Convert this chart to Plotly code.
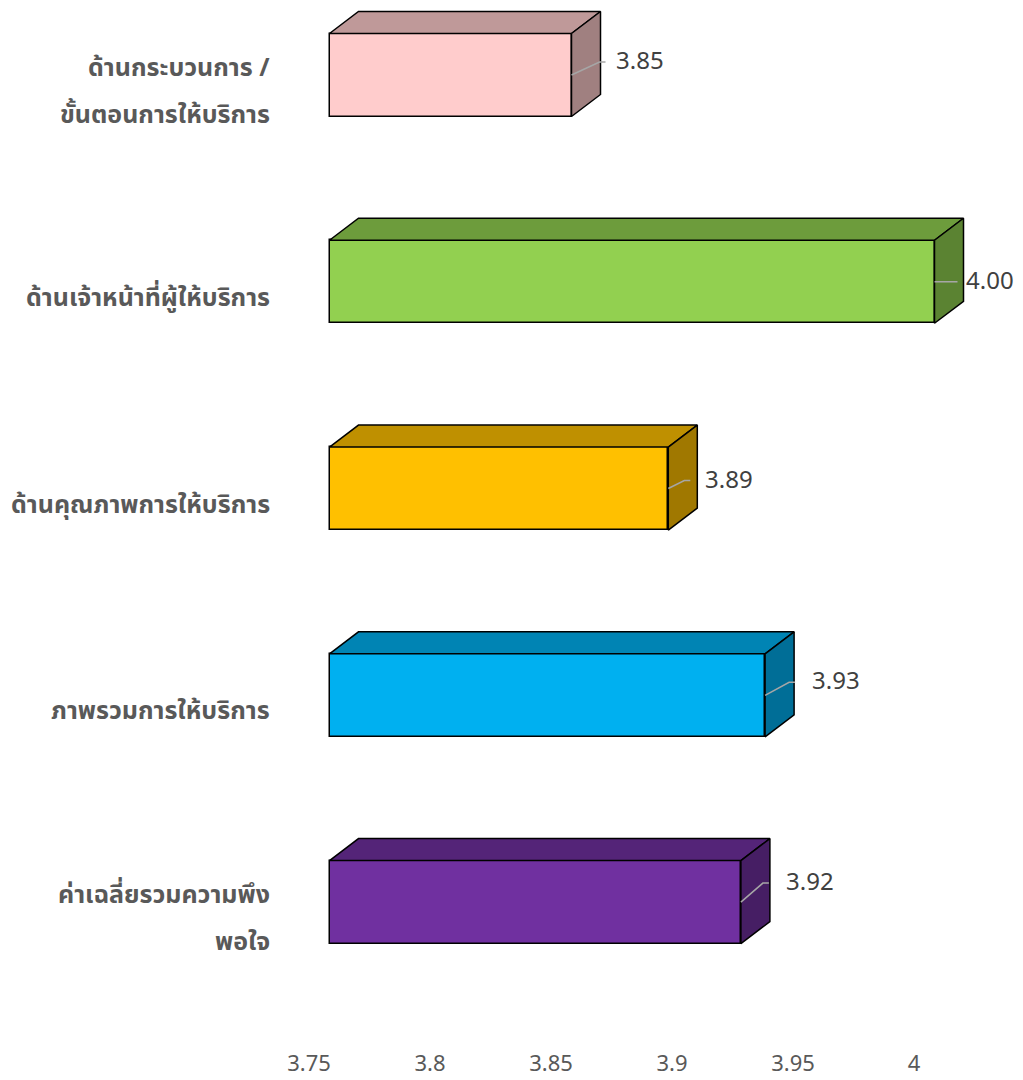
import plotly.graph_objects as go

# Satisfaction scores by aspect (top to bottom)
categories = [
    "ด้านกระบวนการ /<br>ขั้นตอนการให้บริการ",
    "ด้านเจ้าหน้าที่ผู้ให้บริการ",
    "ด้านคุณภาพการให้บริการ",
    "ภาพรวมการให้บริการ",
    "ค่าเฉลี่ยรวมความพึง<br>พอใจ",
]
scores = [3.85, 4.00, 3.89, 3.93, 3.92]
score_labels = ["3.85", "4.00", "3.89", "3.93", "3.92"]
tick_values = [3.75, 3.80, 3.85, 3.90, 3.95, 4.00]
tick_labels = ["3.75", "3.8", "3.85", "3.9", "3.95", "4"]

front_colors = ["#FFCCCC", "#92D050", "#FFC000", "#00B0F0", "#7030A0"]

# Label nudges in pixels: (elbow dx, elbow dy, text dx) relative to the bar end
label_nudges = [(28, -13, 42), (17, 0, 29), (16, -8, 35), (24, -13, 45), (22, -19, 43)]

W, H = 1023, 1080
ML, MR, MT, MB = 285, 0, 0, 35
plot_w = W - ML - MR
plot_h = H - MT - MB

X0 = 3.75 - 24 / 2420.0
X1 = X0 + plot_w / 2420.0
PXX = plot_w / (X1 - X0)

Y_TOP = -91 / 206.77
Y_BOT = Y_TOP + plot_h / 206.77
PXY = plot_h / (Y_BOT - Y_TOP)

BASE = 3.75
FRONT_SHIFT = 20.5 / PXX      # front face offset in axis units
DEPTH_X = 29 / PXX
DEPTH_Y = 22 / PXY
BAR_H = 83 / PXY
BAR_LIFT = 16 / PXY
LINE_GAP = 47                 # px between lines of a wrapped category label


def shade(hex_color, f):
    h = hex_color.lstrip("#")
    r, g, b = (int(h[i:i + 2], 16) for i in (0, 2, 4))
    return "#{:02X}{:02X}{:02X}".format(int(r * f), int(g * f), int(b * f))


fig = go.Figure()
font_family = "Noto Sans Thai, Noto Sans Thai Looped, Tahoma, Noto Sans, sans-serif"

ypos = list(range(len(categories)))

for i, (v, c) in enumerate(zip(scores, front_colors)):
    yc = i - BAR_LIFT
    ytop = yc - BAR_H / 2
    ybot = yc + BAR_H / 2
    xl = BASE + FRONT_SHIFT
    xr = v + FRONT_SHIFT
    # top face
    fig.add_trace(go.Scatter(
        x=[xl, xr, xr + DEPTH_X, xl + DEPTH_X, xl],
        y=[ytop, ytop, ytop - DEPTH_Y, ytop - DEPTH_Y, ytop],
        fill="toself", fillcolor=shade(c, 0.75), mode="lines",
        line=dict(color="black", width=1.5), hoverinfo="skip", showlegend=False))
    # side face
    fig.add_trace(go.Scatter(
        x=[xr, xr + DEPTH_X, xr + DEPTH_X, xr, xr],
        y=[ytop, ytop - DEPTH_Y, ybot - DEPTH_Y, ybot, ytop],
        fill="toself", fillcolor=shade(c, 0.63), mode="lines",
        line=dict(color="black", width=1.5), hoverinfo="skip", showlegend=False))

# front faces
fig.add_trace(go.Bar(
    orientation="h",
    y=[i - BAR_LIFT for i in ypos],
    x=[v - BASE for v in scores],
    base=[BASE + FRONT_SHIFT] * len(scores),
    width=BAR_H,
    marker=dict(color=front_colors, line=dict(color="black", width=1.5)),
    showlegend=False, hoverinfo="skip"))

# leader lines and value labels
for i, (v, txt, (ex, ey, tx)) in enumerate(zip(scores, score_labels, label_nudges)):
    yc = i - BAR_LIFT
    xr = v + FRONT_SHIFT
    fig.add_trace(go.Scatter(
        x=[xr, xr + ex / PXX, xr + (ex + 6) / PXX],
        y=[yc, yc + ey / PXY, yc + ey / PXY],
        mode="lines", line=dict(color="#A6A6A6", width=1.5),
        hoverinfo="skip", showlegend=False))
    fig.add_annotation(
        x=xr + tx / PXX, y=yc + ey / PXY, text=txt, showarrow=False,
        xanchor="left", yanchor="middle",
        font=dict(size=24, color="#404040", family=font_family))

# category labels, one annotation per line so wrapped labels keep wide spacing
label_x = -13 / plot_w
for i, cat in enumerate(categories):
    lines = cat.split("<br>")
    n = len(lines)
    for k, line in enumerate(lines):
        off_px = (k - (n - 1) / 2) * LINE_GAP
        fig.add_annotation(
            xref="paper", yref="y",
            x=label_x, y=i + off_px / PXY, text="<b>" + line + "</b>",
            showarrow=False, xanchor="right", yanchor="middle",
            font=dict(size=25, color="#595959", family=font_family))

fig.update_layout(
    width=W, height=H,
    margin=dict(l=ML, r=MR, t=MT, b=MB),
    paper_bgcolor="white", plot_bgcolor="white",
    bargap=0,
    xaxis=dict(range=[X0, X1], tickvals=tick_values, ticktext=tick_labels,
               showgrid=False, zeroline=False, showline=False, ticks="",
               ticklabelstandoff=3, automargin=False,
               tickfont=dict(size=22, color="#595959", family=font_family)),
    yaxis=dict(range=[Y_BOT, Y_TOP], tickvals=ypos, showticklabels=False,
               showgrid=False, zeroline=False, showline=False, ticks="",
               automargin=False),
    font=dict(family=font_family),
)

fig.write_html("out.html")
